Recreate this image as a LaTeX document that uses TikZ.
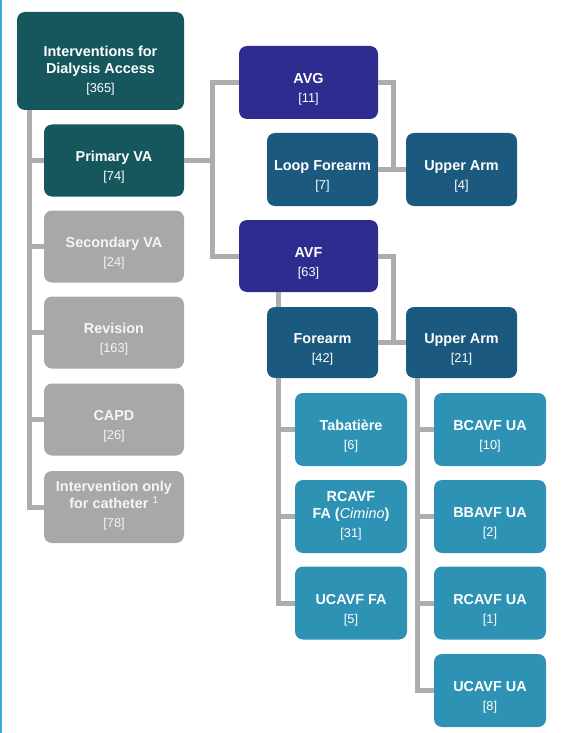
\documentclass[tikz,border=0pt]{standalone}
\usepackage{fontspec}
\setmainfont{Liberation Sans}
\definecolor{cRoot}{HTML}{15575D}
\definecolor{cIndigo}{HTML}{2E2C8E}
\definecolor{cMid}{HTML}{1B5A7E}
\definecolor{cLeaf}{HTML}{2E92B4}
\definecolor{cGrey}{HTML}{A6A8AA}
\definecolor{cLine}{HTML}{ADADB0}
\definecolor{cEdge}{HTML}{3FAAD6}
\newcommand\numtxt[1]{{\mdseries\fontsize{12.8}{15}\selectfont #1}}
\tikzset{
  box/.style={rectangle, rounded corners=8pt, draw=none, fill=#1, inner sep=0pt},
  lbl/.style={text=white, align=center, inner sep=0pt, font=\fontsize{14.4}{17}\selectfont\bfseries},
  glbl/.style={lbl, text=white!96!black},
  leftbox/.style={box=cGrey, minimum width=140pt, minimum height=72pt},
  midbox/.style={box=cMid, minimum width=111pt, minimum height=73pt},
  leafbox/.style={box=cLeaf, minimum width=112pt, minimum height=73pt},
  conn/.style={draw=cLine, line width=5pt},
}
\begin{document}
\begin{tikzpicture}[x=1pt,y=-1pt]
\useasboundingbox (0,0) rectangle (565,733);
\draw[cEdge, line width=1.6pt] (1,0) -- (1,733);

% trunk coordinates
\coordinate (tL) at (29,0);
\coordinate (tP) at (212,0);
\coordinate (tA) at (393,0);
\coordinate (tF) at (278,0);
\coordinate (tU) at (417,0);

% left column
\node[box=cRoot, minimum width=167pt, minimum height=98pt,
  label={[lbl,yshift=-10pt]center:{Interventions for\\Dialysis Access\\[2pt]\numtxt{[365]}}}] (root) at (100.5,61) {};
\node[box=cRoot, minimum width=140pt, minimum height=72pt,
  label={[lbl,yshift=-7pt]center:{Primary VA\\[2pt]\numtxt{[74]}}}] (prim) at (114,160.5) {};
\node[leftbox, label={[glbl,yshift=-7pt]center:{Secondary VA\\[2pt]\numtxt{[24]}}}] (sec) at (114,246.5) {};
\node[leftbox, label={[glbl,yshift=-7pt]center:{Revision\\[2pt]\numtxt{[163]}}}] (rev) at (114,332.5) {};
\node[leftbox, label={[glbl,yshift=-7pt]center:{CAPD\\[2pt]\numtxt{[26]}}}] (capd) at (114,419.5) {};
\node[leftbox, label={[glbl,yshift=1pt]center:{Intervention only\\for catheter \textsuperscript{\mdseries 1}\\[2pt]\numtxt{[78]}}}] (cath) at (114,507) {};

% AVG / AVF
\node[box=cIndigo, minimum width=139pt, minimum height=73pt,
  label={[lbl,yshift=-7pt]center:{AVG\\[2pt]\numtxt{[11]}}}] (avg) at (308.5,82.5) {};
\node[box=cIndigo, minimum width=139pt, minimum height=72pt,
  label={[lbl,yshift=-7pt]center:{AVF\\[2pt]\numtxt{[63]}}}] (avf) at (308.5,256) {};

\node[midbox, label={[lbl,yshift=-7pt]center:{Loop Forearm\\[2pt]\numtxt{[7]}}}] (lf) at (322.5,169.5) {};
\node[midbox, label={[lbl,yshift=-7pt]center:{Upper Arm\\[2pt]\numtxt{[4]}}}] (uaG) at (461.5,169.5) {};
\node[midbox, minimum height=71pt, label={[lbl,yshift=-7pt]center:{Forearm\\[2pt]\numtxt{[42]}}}] (fa) at (322.5,342.5) {};
\node[midbox, minimum height=71pt, label={[lbl,yshift=-7pt]center:{Upper Arm\\[2pt]\numtxt{[21]}}}] (uaF) at (461.5,342.5) {};

% forearm leaves
\node[leafbox, label={[lbl,yshift=-7pt]center:{Tabatière\\[2pt]\numtxt{[6]}}}] (tab) at (351,429.5) {};
\node[leafbox, label={[lbl,yshift=1pt]center:{RCAVF\\FA ({\mdseries\itshape Cimino})\\[2pt]\numtxt{[31]}}}] (rcfa) at (351,516.5) {};
\node[leafbox, label={[lbl,yshift=-7pt]center:{UCAVF FA\\[2pt]\numtxt{[5]}}}] (ucfa) at (351,603) {};

% upper arm leaves
\node[leafbox, label={[lbl,yshift=-7pt]center:{BCAVF UA\\[2pt]\numtxt{[10]}}}] (bcua) at (490,429.5) {};
\node[leafbox, label={[lbl,yshift=-7pt]center:{BBAVF UA\\[2pt]\numtxt{[2]}}}] (bbua) at (490,516.5) {};
\node[leafbox, label={[lbl,yshift=-7pt]center:{RCAVF UA\\[2pt]\numtxt{[1]}}}] (rcua) at (490,603) {};
\node[leafbox, label={[lbl,yshift=-7pt]center:{UCAVF UA\\[2pt]\numtxt{[8]}}}] (ucua) at (490,690.5) {};

% connectors
\draw[conn] (tL |- root.south) |- (cath.west);
\draw[conn] (tL |- prim.west) -- (prim.west);
\draw[conn] (tL |- sec.west) -- (sec.west);
\draw[conn] (tL |- rev.west) -- (rev.west);
\draw[conn] (tL |- capd.west) -- (capd.west);

\draw[conn] (prim.east) -- (prim.east -| tP);
\draw[conn] (avg.west) -| (tP |- avf.west) -- (avf.west);

\draw[conn] (avg.east) -| (tA |- lf.east);
\draw[conn] (lf.east) -- (uaG.west);
\draw[conn] (avf.east) -| (tA |- fa.east);
\draw[conn] (fa.east) -- (uaF.west);

\draw[conn] (tF |- avf.south) -- (tF |- fa.north);
\draw[conn] (tF |- fa.south) |- (ucfa.west);
\draw[conn] (tF |- tab.west) -- (tab.west);
\draw[conn] (tF |- rcfa.west) -- (rcfa.west);

\draw[conn] (tU |- uaF.south) |- (ucua.west);
\draw[conn] (tU |- bcua.west) -- (bcua.west);
\draw[conn] (tU |- bbua.west) -- (bbua.west);
\draw[conn] (tU |- rcua.west) -- (rcua.west);
\end{tikzpicture}
\end{document}
